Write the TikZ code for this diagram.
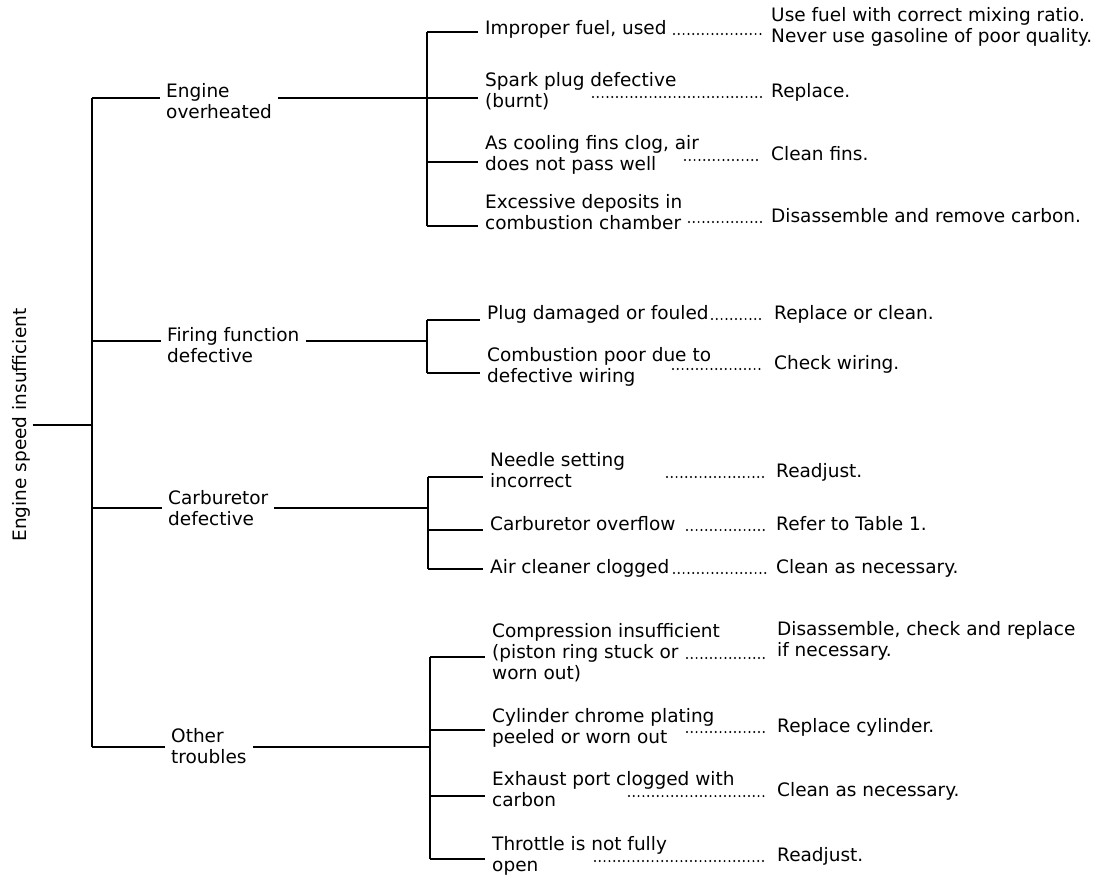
\documentclass[tikz,border=0pt]{standalone}
\usepackage{fontspec}
\setmainfont{DejaVu Sans}
\newcommand\lf{\fontsize{18.5}{21}\selectfont}
\begin{document}
\begin{tikzpicture}[x=1pt,y=-1pt,
  tree/.style={line width=1.3pt},
  leader/.style={line width=2.2pt, dash pattern=on 0pt off 4.8pt, line cap=round},
  txt/.style={font=\lf, align=left, anchor=north west, yshift=14.7pt, inner ysep=0pt, execute at begin node=\strut},
  lvl/.style={txt, inner xsep=6pt},
  cz/.style={txt, inner xsep=7pt},
  rem/.style={txt, inner xsep=10pt},
  rootlbl/.style={font=\lf, rotate=90, anchor=base, inner sep=1.5pt}]
\useasboundingbox (0,0) rectangle (1103,878);

% root and main spine
\node[rootlbl] (root) at (27,425) {Engine speed insufficient};
\coordinate (J0) at (92,425);
\coordinate (J1) at (92,98);
\coordinate (J2) at (92,341);
\coordinate (J3) at (92,508);
\coordinate (J4) at (92,747);
\draw[tree] (J1) -- (J4);
\draw[tree] (root.south) -- (J0);

% level-1 labels
\node[lvl] (L1) at (160,98) {Engine\\overheated};
\node[lvl] (L2) at (161,342) {Firing function\\defective};
\node[lvl] (L3) at (162,505) {Carburetor\\defective};
\node[lvl] (L4) at (165,743) {Other\\troubles};

\coordinate (K1) at (427,98);
\coordinate (K2) at (427,341);
\coordinate (K3) at (428,508);
\coordinate (K4) at (430,747);

\draw[tree] (J1) -- (L1.west |- J1);
\draw[tree] (J2) -- (L2.west |- J2);
\draw[tree] (J3) -- (L3.west |- J3);
\draw[tree] (J4) -- (L4.west |- J4);
\draw[tree] (L1.east |- J1) -- (K1);
\draw[tree] (L2.east |- J2) -- (K2);
\draw[tree] (L3.east |- J3) -- (K3);
\draw[tree] (L4.east |- J4) -- (K4);

% branch points on the sub-spines
\coordinate (B11) at (427,32);
\coordinate (B12) at (427,98);
\coordinate (B13) at (427,162);
\coordinate (B14) at (427,226);
\coordinate (B21) at (427,320);
\coordinate (B22) at (427,373);
\coordinate (B31) at (428,477);
\coordinate (B32) at (428,530);
\coordinate (B33) at (428,569);
\coordinate (B41) at (430,657);
\coordinate (B42) at (430,730);
\coordinate (B43) at (430,796);
\coordinate (B44) at (430,859);
\draw[tree] (B11) -- (B14);
\draw[tree] (B21) -- (B22);
\draw[tree] (B31) -- (B33);
\draw[tree] (B41) -- (B44);

% causes
\node[cz] (c11) at (478,34) {Improper fuel, used};
\node[cz] (c12) at (478,87) {Spark plug defective\\(burnt)};
\node[cz] (c13) at (478,150) {As cooling fins clog, air\\does not pass well};
\node[cz] (c14) at (478,209) {Excessive deposits in\\combustion chamber};
\node[cz] (c21) at (480,319) {Plug damaged or fouled};
\node[cz] (c22) at (480,362) {Combustion poor due to\\defective wiring};
\node[cz] (c31) at (483,467) {Needle setting\\incorrect};
\node[cz] (c32) at (483,530) {Carburetor overflow};
\node[cz] (c33) at (483,573) {Air cleaner clogged};
\node[cz] (c41) at (485,638) {Compression insufficient\\(piston ring stuck or\\worn out)};
\node[cz] (c42) at (485,723) {Cylinder chrome plating\\peeled or worn out};
\node[cz] (c43) at (485,786) {Exhaust port clogged with\\carbon};
\node[cz] (c44) at (485,851) {Throttle is not fully\\open};

\foreach \b/\c in {B11/c11,B12/c12,B13/c13,B14/c14,B21/c21,B22/c22,B31/c31,B32/c32,B33/c33,B41/c41,B42/c42,B43/c43,B44/c44}
  \draw[tree] (\b) -- (\c.west |- \b);

% remedies
\node[rem] (r11) at (761,22) {Use fuel with correct mixing ratio.\\Never use gasoline of poor quality.};
\node[rem] (r12) at (761,97) {Replace.};
\node[rem] (r13) at (761,160) {Clean fins.};
\node[rem] (r14) at (761,222) {Disassemble and remove carbon.};
\node[rem] (r21) at (764,319) {Replace or clean.};
\node[rem] (r22) at (764,369) {Check wiring.};
\node[rem] (r31) at (766,477) {Readjust.};
\node[rem] (r32) at (766,530) {Refer to Table 1.};
\node[rem] (r33) at (766,573) {Clean as necessary.};
\node[rem] (r41) at (767,636) {Disassemble, check and replace\\if necessary.};
\node[rem] (r42) at (767,732) {Replace cylinder.};
\node[rem] (r43) at (767,796) {Clean as necessary.};
\node[rem] (r44) at (767,861) {Readjust.};

% leader dots
\coordinate (d11) at (674,34);
\coordinate (d12) at (593,97);
\coordinate (d13) at (685,160);
\coordinate (d14) at (689,222);
\coordinate (d21) at (712,319);
\coordinate (d22) at (673,369);
\coordinate (d31) at (667,477);
\coordinate (d32) at (687,530);
\coordinate (d33) at (674,573);
\coordinate (d41) at (687,658);
\coordinate (d42) at (687,732);
\coordinate (d43) at (629,796);
\coordinate (d44) at (595,861);
\foreach \d/\r in {d11/r11,d12/r12,d13/r13,d14/r14,d21/r21,d22/r22,d31/r31,d32/r32,d33/r33,d41/r41,d42/r42,d43/r43,d44/r44}
  \draw[leader] (\d) -- (\d -| \r.west);
\end{tikzpicture}
\end{document}
